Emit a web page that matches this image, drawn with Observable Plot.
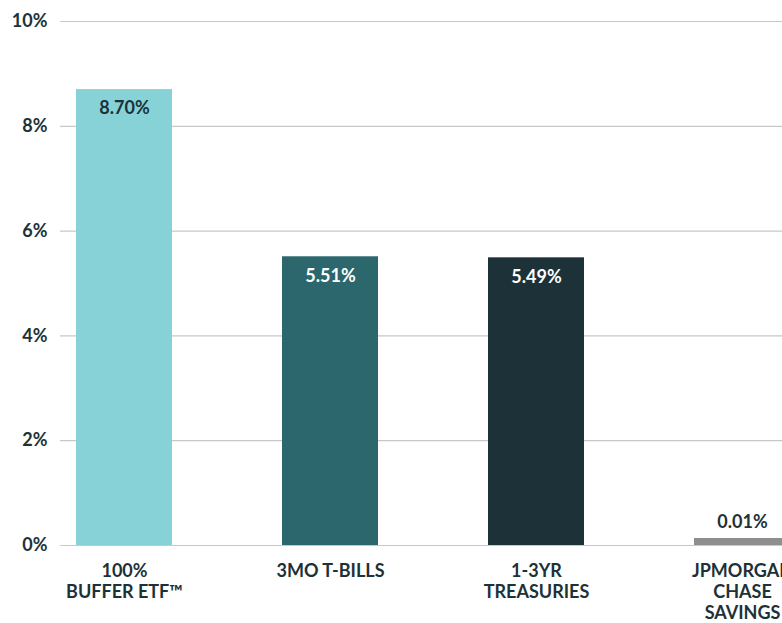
<!DOCTYPE html>
<html>
<head>
<meta charset="utf-8">
<script src="https://cdn.jsdelivr.net/npm/d3@7"></script>
<script src="https://cdn.jsdelivr.net/npm/@observablehq/plot@0.6"></script>
<style>
  html, body { margin: 0; padding: 0; background: #fff; overflow: hidden; }
  #chart svg { overflow: hidden; }
</style>
</head>
<body>
<div id="chart"></div>
<script>
const categories = ["100%\nBUFFER ETF™", "3MO T-BILLS", "1-3YR\nTREASURIES", "JPMORGAN\nCHASE\nSAVINGS"];
const values = [8.70, 5.51, 5.49, 0.01];
const valueLabels = ["8.70%", "5.51%", "5.49%", "0.01%"];
const colors = ["#86d2d7", "#2b676d", "#1c3238", "#8e8e8e"];
const labelColors = ["#1c3238", "#ffffff", "#ffffff", "#1c3238"];
const yTicks = [0, 2, 4, 6, 8, 10];

const data = categories.map((c, i) => ({cat: c, value: values[i], label: valueLabels[i], color: colors[i], lc: labelColors[i]}));
const big = data.filter(d => d.value >= 1);
const small = data.filter(d => d.value < 1);

const ink = "#1c3238";
const font = "Lato, 'Open Sans', sans-serif";

const chart = Plot.plot({
  width: 782,
  height: 623,
  marginLeft: 60,
  marginRight: 0,
  marginTop: 21,
  marginBottom: 78,
  style: {fontFamily: font, color: ink, background: "#fff"},
  x: {type: "band", domain: categories, range: [60, 806], paddingInner: 0.5355, paddingOuter: 0.0726, axis: null},
  y: {domain: [0, 10], axis: null},
  marks: [
    Plot.ruleY(yTicks, {stroke: "#c8c8c8", strokeWidth: 1.2}),
    Plot.barY(big, {x: "cat", y: "value", fill: "color"}),
    Plot.barY(small, {x: "cat", y: "value", fill: "color", insetTop: -6.5}),
    Plot.text(yTicks, {x: () => categories[0], y: d => d, text: d => d + "%", dx: -77, textAnchor: "end", fontSize: 18, fontWeight: 700, fill: ink, letterSpacing: "-0.5px"}),
    Plot.text(big, {x: "cat", y: "value", text: "label", dy: 19, fill: "lc", fontSize: 18, fontWeight: 700, letterSpacing: "-0.3px"}),
    Plot.text(small, {x: "cat", y: "value", text: "label", dy: -23, fill: "lc", fontSize: 18, fontWeight: 700, letterSpacing: "-0.3px"}),
    Plot.text(data, {x: "cat", y: 0, text: "cat", lineAnchor: "top", dy: 16, lineHeight: 1.18, fill: ink, fontSize: 18, fontWeight: 700, letterSpacing: "-0.6px"})
  ]
});
document.getElementById("chart").appendChild(chart);
</script>
</body>
</html>
